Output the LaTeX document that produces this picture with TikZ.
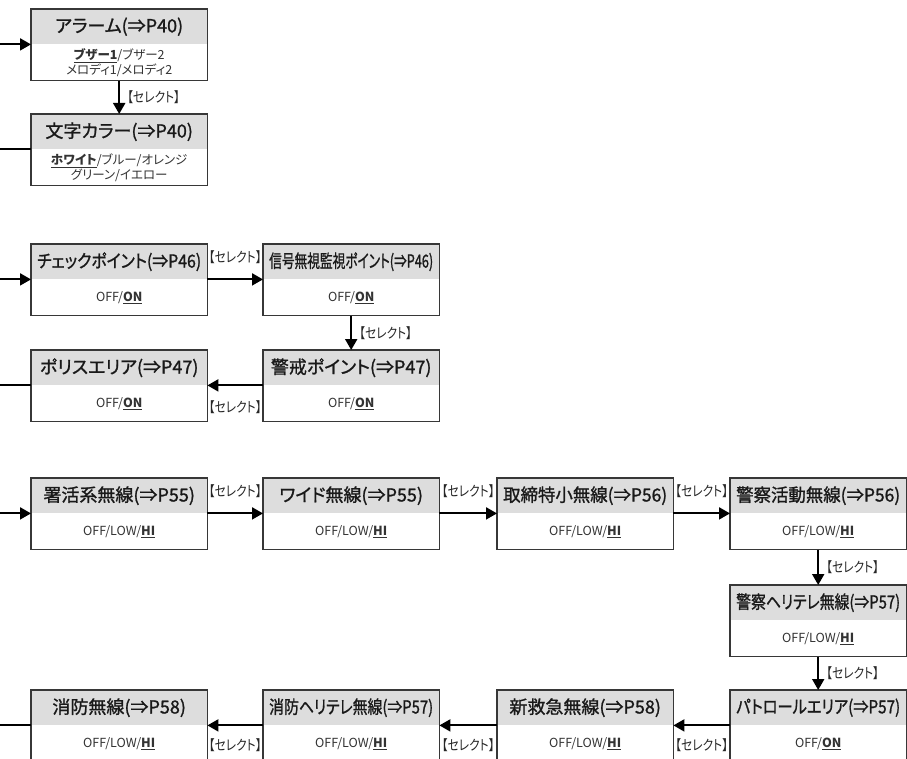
\documentclass[tikz,border=0pt]{standalone}
\usepackage{fontspec}
\usepackage{graphicx}
\setmainfont{Noto Sans CJK JP}[RawFeature=+palt]
\newfontfamily\titlefont{Noto Sans CJK JP}[RawFeature=+palt, FakeBold=1.2]
\newfontfamily\selfont{Noto Sans CJK JP}[RawFeature=+palt, FakeStretch=0.84]
\usetikzlibrary{positioning, arrows.meta}
\definecolor{hdrgray}{RGB}{221, 221, 221}
\definecolor{framegray}{RGB}{55, 55, 55}
\definecolor{inktext}{RGB}{25, 25, 25}

% underlined default setting
\newcommand{\dflt}[1]{\underline{\textbf{#1}}}
% long titles are squeezed to the box width
\newsavebox{\ttlbox}
\newcommand{\fittitle}[1]{\sbox{\ttlbox}{#1}\ifdim\wd\ttlbox>164pt\resizebox{164pt}{\height}{#1}\else\usebox{\ttlbox}\fi}
% one setting box: name, top-left corner, title, choices
\newcommand{\optbox}[4]{%
	\node[hdr, anchor=north west] (#1-h) at (#2) {\fittitle{#3}};
	\node[bdy, below=0pt of #1-h] (#1) {#4};
	\draw[frame] (#1-h.north west) rectangle (#1.south east);}

\begin{document}
\begin{tikzpicture}[
	x=1pt, y=-1pt,
	% Styles for the setting boxes
	hdr/.style={fill=hdrgray, minimum width=176pt, minimum height=35pt, inner sep=0pt, text=inktext, font=\titlefont\fontsize{18}{21}\selectfont},
	bdy/.style={minimum width=176pt, minimum height=36pt, inner sep=0pt, align=center, text=black!80, font=\fontsize{12.5}{14.5}\selectfont},
	frame/.style={draw=framegray, line width=1.2pt},
	% Styles for the connectors
	flow/.style={line width=2pt, -{Triangle[length=11pt, width=12pt]}},
	link/.style={line width=2pt},
	seltext/.style={font=\selfont\fontsize{14}{16}\selectfont, inner sep=1pt, text=black!85}
	]
	\clip (0,0) rectangle (907,759);
	\coordinate (edge) at (0,0);
	
	% ==========================================
	% 1. ALARM / TEXT COLOUR
	% ==========================================
	\optbox{alarm}{31,9}{アラーム(⇒P40)}{\dflt{ブザー1}/ブザー2\\メロディ1/メロディ2}
	\optbox{color}{31,114}{文字カラー(⇒P40)}{\dflt{ホワイト}/ブルー/オレンジ\\グリーン/イエロー}
	
	\draw[flow] (alarm-h.south west -| edge) -- (alarm-h.south west);
	\draw[flow] (alarm.south) -- node[seltext, right=6pt] (sel1) {【セレクト】} (color-h.north);
	\draw[link] (color-h.south west) -- (color-h.south west -| edge);
	
	% ==========================================
	% 2. CHECK POINTS / POLICE AREA
	% ==========================================
	\optbox{check}{31,244}{チェックポイント(⇒P46)}{OFF/\dflt{ON}}
	\optbox{signal}{263,244}{信号無視監視ポイント(⇒P46)}{OFF/\dflt{ON}}
	\optbox{guard}{263,350}{警戒ポイント(⇒P47)}{OFF/\dflt{ON}}
	\optbox{police}{31,350}{ポリスエリア(⇒P47)}{OFF/\dflt{ON}}
	
	\draw[flow] (check-h.south west -| edge) -- (check-h.south west);
	\draw[flow] (check-h.south east) -- node[seltext, above=14pt] (sel2) {【セレクト】} (signal-h.south west);
	\draw[flow] (signal.south) -- node[seltext, right=6pt] (sel3) {【セレクト】} (guard-h.north);
	\draw[flow] (guard-h.south west) -- node[seltext, below=13pt] (sel4) {【セレクト】} (police-h.south east);
	\draw[link] (police-h.south west) -- (police-h.south west -| edge);
	
	% ==========================================
	% 3. RADIO RECEPTION
	% ==========================================
	\optbox{radio1}{31,478}{署活系無線(⇒P55)}{OFF/LOW/\dflt{HI}}
	\optbox{radio2}{263,478}{ワイド無線(⇒P55)}{OFF/LOW/\dflt{HI}}
	\optbox{radio3}{497,478}{取締特小無線(⇒P56)}{OFF/LOW/\dflt{HI}}
	\optbox{radio4}{730,478}{警察活動無線(⇒P56)}{OFF/LOW/\dflt{HI}}
	\optbox{radio5}{730,585}{警察ヘリテレ無線(⇒P57)}{OFF/LOW/\dflt{HI}}
	\optbox{patrol}{730,690}{パトロールエリア(⇒P57)}{OFF/\dflt{ON}}
	\optbox{radio6}{497,690}{新救急無線(⇒P58)}{OFF/LOW/\dflt{HI}}
	\optbox{radio7}{263,690}{消防ヘリテレ無線(⇒P57)}{OFF/LOW/\dflt{HI}}
	\optbox{radio8}{31,690}{消防無線(⇒P58)}{OFF/LOW/\dflt{HI}}
	
	\draw[flow] (radio1-h.south west -| edge) -- (radio1-h.south west);
	\draw[flow] (radio1-h.south east) -- node[seltext, above=14pt] (sel5) {【セレクト】} (radio2-h.south west);
	\draw[flow] (radio2-h.south east) -- node[seltext, above=14pt] (sel6) {【セレクト】} (radio3-h.south west);
	\draw[flow] (radio3-h.south east) -- node[seltext, above=14pt] (sel7) {【セレクト】} (radio4-h.south west);
	\draw[flow] (radio4.south) -- node[seltext, right=6pt] (sel8) {【セレクト】} (radio5-h.north);
	\draw[flow] (radio5.south) -- node[seltext, right=6pt] (sel9) {【セレクト】} (patrol-h.north);
	\draw[flow] (patrol-h.south west) -- node[seltext, below=11pt] (sel10) {【セレクト】} (radio6-h.south east);
	\draw[flow] (radio6-h.south west) -- node[seltext, below=11pt] (sel11) {【セレクト】} (radio7-h.south east);
	\draw[flow] (radio7-h.south west) -- node[seltext, below=11pt] (sel12) {【セレクト】} (radio8-h.south east);
	\draw[link] (radio8-h.south west) -- (radio8-h.south west -| edge);
	
\end{tikzpicture}
\end{document}
